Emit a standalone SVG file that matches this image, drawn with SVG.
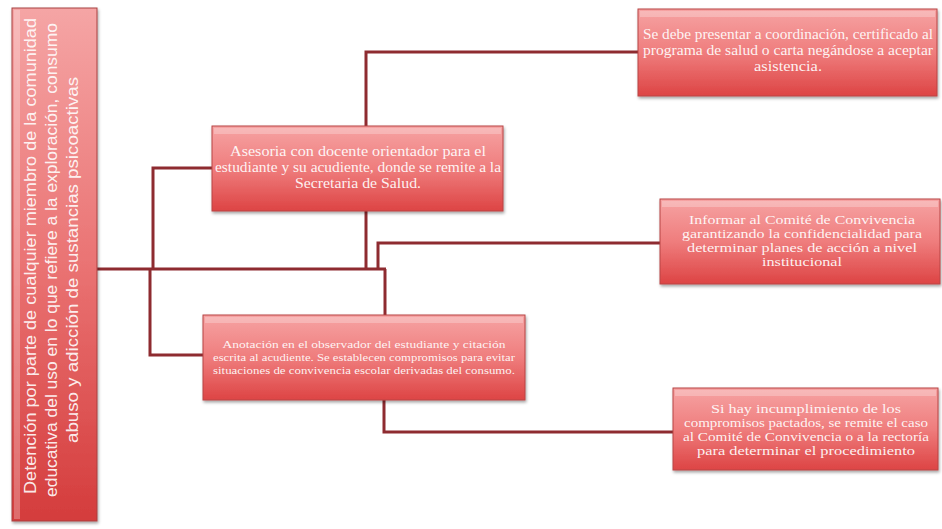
<svg xmlns="http://www.w3.org/2000/svg" width="942" height="529" viewBox="0 0 942 529">
<defs>
<linearGradient id="g" x1="0" y1="0" x2="0" y2="1">
<stop offset="0" stop-color="#f6a3a3"/>
<stop offset="0.5" stop-color="#ef7d7d"/>
<stop offset="1" stop-color="#dd4444"/>
</linearGradient>
<linearGradient id="gl" x1="0" y1="0" x2="0" y2="1">
<stop offset="0" stop-color="#f5a5a5"/>
<stop offset="0.5" stop-color="#ea7373"/>
<stop offset="1" stop-color="#d43c3c"/>
</linearGradient>
<filter id="sh" x="-10%" y="-10%" width="120%" height="130%">
<feDropShadow dx="1" dy="2" stdDeviation="1.5" flood-color="#000" flood-opacity="0.35"/>
</filter>
</defs>
<style>
.box{fill:url(#g);stroke:#b84444;stroke-width:1;filter:url(#sh)}
.hl{fill:#fff;opacity:0.25}
.t{font-family:"Liberation Serif","DejaVu Serif",serif;fill:#fff;fill-opacity:0.92;text-anchor:middle}
.ts{font-family:"Liberation Sans",Arial,sans-serif;fill:#fff;fill-opacity:0.9;text-anchor:middle;font-size:16px}
.c{fill:none;stroke:#8e2b30;stroke-width:3}
</style>
<rect width="942" height="529" fill="#fff"/>
<g id="connectors">
<path class="c" d="M97,269 H386"/>
<path class="c" d="M153,269 V168 H212"/>
<path class="c" d="M366,211 V269"/>
<path class="c" d="M366,126 V52 H638"/>
<path class="c" d="M378,269 V243 H660"/>
<path class="c" d="M150,269 V355 H203"/>
<path class="c" d="M385,269 V315"/>
<path class="c" d="M384,400 V432 H673"/>
</g>
<g id="n0">
<rect x="12" y="8" width="85" height="513" fill="url(#gl)" stroke="#a84040" stroke-width="1" filter="url(#sh)"/>
<rect x="14" y="10" width="6" height="509" class="hl"/>
<text class="ts" transform="translate(36,256) rotate(-90)" textLength="476" lengthAdjust="spacingAndGlyphs">Detención por parte de cualquier miembro de la comunidad</text>
<text class="ts" transform="translate(57,260) rotate(-90)" textLength="474" lengthAdjust="spacingAndGlyphs">educativa del uso en lo que refiere a la exploración, consumo</text>
<text class="ts" transform="translate(78,260) rotate(-90)" textLength="366" lengthAdjust="spacingAndGlyphs">abuso y adicción de sustancias psicoactivas</text>
</g>
<g id="nA">
<rect class="box" x="638" y="9" width="299" height="87"/>
<rect class="hl" x="640" y="11" width="295" height="6"/>
<text class="t" font-size="14" x="788" y="39" textLength="290" lengthAdjust="spacingAndGlyphs">Se debe presentar a coordinación, certificado al</text>
<text class="t" font-size="14" x="788" y="55" textLength="290" lengthAdjust="spacingAndGlyphs">programa de salud o carta negándose a aceptar</text>
<text class="t" font-size="14" x="788" y="71" textLength="68" lengthAdjust="spacingAndGlyphs">asistencia.</text>
</g>
<g id="nB">
<rect class="box" x="212" y="126" width="291" height="85"/>
<rect class="hl" x="214" y="128" width="287" height="6"/>
<text class="t" font-size="14" x="358" y="156" textLength="256" lengthAdjust="spacingAndGlyphs">Asesoria con docente orientador para el</text>
<text class="t" font-size="14" x="358" y="172" textLength="286" lengthAdjust="spacingAndGlyphs">estudiante y su acudiente, donde se remite a la</text>
<text class="t" font-size="14" x="358" y="188" textLength="126" lengthAdjust="spacingAndGlyphs">Secretaria de Salud.</text>
</g>
<g id="nC">
<rect class="box" x="660" y="199" width="280" height="85"/>
<rect class="hl" x="662" y="201" width="276" height="6"/>
<text class="t" font-size="12.5" x="802" y="224" textLength="226" lengthAdjust="spacingAndGlyphs">Informar al Comité de Convivencia</text>
<text class="t" font-size="12.5" x="802" y="238" textLength="240" lengthAdjust="spacingAndGlyphs">garantizando la confidencialidad para</text>
<text class="t" font-size="12.5" x="802" y="252" textLength="230" lengthAdjust="spacingAndGlyphs">determinar planes de acción a nivel</text>
<text class="t" font-size="12.5" x="802" y="266" textLength="80" lengthAdjust="spacingAndGlyphs">institucional</text>
</g>
<g id="nD">
<rect class="box" x="203" y="315" width="322" height="85"/>
<rect class="hl" x="205" y="317" width="318" height="6"/>
<text class="t" font-size="10.5" x="364" y="348" textLength="283" lengthAdjust="spacingAndGlyphs">Anotación en el observador del estudiante y citación</text>
<text class="t" font-size="10.5" x="364" y="361" textLength="302" lengthAdjust="spacingAndGlyphs">escrita al acudiente. Se establecen compromisos para evitar</text>
<text class="t" font-size="10.5" x="364" y="374" textLength="302" lengthAdjust="spacingAndGlyphs">situaciones de convivencia escolar derivadas del consumo.</text>
</g>
<g id="nE">
<rect class="box" x="673" y="388" width="265" height="82"/>
<rect class="hl" x="675" y="390" width="261" height="6"/>
<text class="t" font-size="12.5" x="806" y="413" textLength="190" lengthAdjust="spacingAndGlyphs">Si hay incumplimiento de los</text>
<text class="t" font-size="12.5" x="806" y="427" textLength="244" lengthAdjust="spacingAndGlyphs">compromisos pactados, se remite el caso</text>
<text class="t" font-size="12.5" x="806" y="441" textLength="246" lengthAdjust="spacingAndGlyphs">al Comité de Convivencia o a la rectoría</text>
<text class="t" font-size="12.5" x="806" y="455" textLength="218" lengthAdjust="spacingAndGlyphs">para determinar el procedimiento</text>
</g>
</svg>
